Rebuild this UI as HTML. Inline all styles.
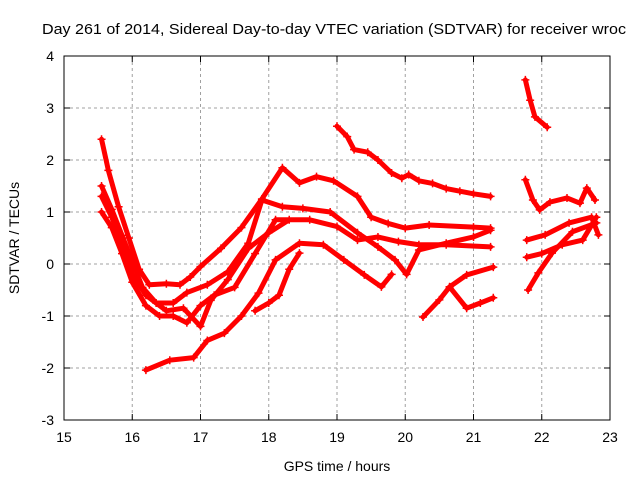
<!DOCTYPE html>
<html><head><meta charset="utf-8"><style>
body{margin:0;background:#fff}
svg{display:block;font-family:"Liberation Sans",sans-serif}
</style></head><body>
<svg id="c" width="640" height="480" viewBox="0 0 640 480">
<rect width="640" height="480" fill="#fff"/>
<text x="42" y="34" font-size="15" textLength="584" lengthAdjust="spacingAndGlyphs" fill="#000">Day 261 of 2014, Sidereal Day-to-day VTEC variation (SDTVAR) for receiver wroc</text>
<g id="grid"></g>
<g id="axes"></g>
<g id="series"></g>
<text x="337" y="471" font-size="14" text-anchor="middle">GPS time / hours</text>
<text transform="translate(19,238) rotate(-90)" font-size="14" text-anchor="middle">SDTVAR / TECUs</text>
</svg>
<script>
const xTicks=[15,16,17,18,19,20,21,22,23];
const yTicks=[-3,-2,-1,0,1,2,3,4];
const s1=[[15.55,2.4],[15.65,1.8],[15.8,1.1],[15.95,0.5],[16.1,-0.1],[16.25,-0.4],[16.5,-0.38],[16.7,-0.4],[16.85,-0.25],[17.0,-0.05],[17.3,0.3],[17.6,0.7],[17.9,1.25],[18.2,1.85],[18.45,1.56],[18.7,1.68],[18.95,1.6],[19.3,1.3],[19.5,0.9],[19.75,0.78],[20.0,0.69],[20.35,0.75],[21.0,0.71],[21.25,0.69]];
const s2=[[15.55,1.5],[15.7,1.05],[15.85,0.55],[16.0,0.05],[16.15,-0.45],[16.35,-0.75],[16.6,-0.75],[16.8,-0.55],[17.1,-0.4],[17.4,-0.15],[17.7,0.4],[17.9,1.23],[18.2,1.1],[18.5,1.07],[18.9,1.0],[19.3,0.6],[19.6,0.33],[19.85,0.08],[20.02,-0.2],[20.2,0.27],[20.6,0.4],[21.0,0.52],[21.25,0.65]];
const s3=[[15.55,1.0],[15.7,0.7],[15.85,0.2],[16.0,-0.35],[16.2,-0.8],[16.4,-1.0],[16.6,-1.0],[16.8,-1.13],[17.0,-0.8],[17.2,-0.6],[17.5,-0.45],[17.8,0.2],[18.1,0.85],[18.6,0.85],[19.0,0.72],[19.3,0.46],[19.6,0.52],[19.9,0.43],[20.2,0.37],[20.6,0.37],[21.25,0.33]];
const s4=[[15.55,1.3],[15.7,0.9],[15.85,0.4],[16.0,-0.2],[16.2,-0.6],[16.5,-0.9],[16.75,-0.85],[17.0,-1.2],[17.15,-0.7],[17.4,-0.3],[17.7,0.3],[18.0,0.6],[18.3,0.85]];
const s5=[[16.2,-2.04],[16.55,-1.85],[16.9,-1.8],[17.1,-1.47],[17.35,-1.33],[17.6,-1.0],[17.85,-0.56],[18.1,0.08],[18.45,0.4],[18.8,0.37],[19.1,0.08],[19.4,-0.21],[19.65,-0.44],[19.8,-0.2]];
const s6=[[17.8,-0.9],[18.0,-0.75],[18.15,-0.6],[18.3,-0.1],[18.45,0.21]];
const s7=[[19.0,2.65],[19.15,2.45],[19.25,2.2],[19.45,2.15],[19.6,2.0],[19.8,1.75],[19.95,1.65],[20.05,1.72],[20.2,1.6],[20.4,1.55],[20.6,1.45],[20.8,1.4],[21.0,1.35],[21.25,1.3]];
const s8=[[20.26,-1.02],[20.5,-0.69],[20.65,-0.44],[20.9,-0.21],[21.29,-0.06]];
const s9=[[20.65,-0.44],[20.9,-0.85],[21.1,-0.75],[21.29,-0.65]];
const s10=[[21.76,3.54],[21.83,3.15],[21.9,2.83],[22.08,2.63]];
const s11=[[21.76,1.62],[21.87,1.23],[21.97,1.04],[22.12,1.19],[22.37,1.27],[22.56,1.17],[22.66,1.46],[22.78,1.23]];
const s12=[[21.78,0.46],[22.05,0.56],[22.4,0.79],[22.73,0.9],[22.83,0.56]];
const s13=[[21.78,0.13],[22.0,0.2],[22.3,0.37],[22.6,0.46],[22.8,0.9]];
const s14=[[21.8,-0.5],[21.95,-0.17],[22.15,0.21],[22.45,0.62],[22.8,0.79]];
const allSeries=[s1,s2,s3,s4,s5,s6,s7,s8,s9,s10,s11,s12,s13,s14];
const X0=64,X1=610,Y0=420,Y1=56;
const xs=h=>X0+(h-15)/8*(X1-X0);
const ys=v=>Y0-(v+3)/7*(Y0-Y1);
const NS="http://www.w3.org/2000/svg";
function mk(t,a,p){const e=document.createElementNS(NS,t);for(const k in a)e.setAttribute(k,a[k]);p.appendChild(e);return e;}
const grid=document.getElementById('grid'),axes=document.getElementById('axes'),ser=document.getElementById('series');
xTicks.forEach(t=>{const x=xs(t);
 if(t>15&&t<23){const g=mk('line',{x1:x,x2:x,y1:Y1,y2:Y0,stroke:'#a0a0a0','stroke-dasharray':'3,3'},grid);
 
 }
 mk('line',{x1:x,x2:x,y1:Y0,y2:Y0-6,stroke:'#000'},axes);mk('line',{x1:x,x2:x,y1:Y1,y2:Y1+6,stroke:'#000'},axes);
 const l=mk('text',{x:x,y:Y0+22,'font-size':14,'text-anchor':'middle'},axes);l.textContent=t;
 
 });
yTicks.forEach(t=>{const y=ys(t);
 if(t>-3&&t<4){const g=mk('line',{x1:X0,x2:X1,y1:y,y2:y,stroke:'#a0a0a0','stroke-dasharray':'3,3'},grid);
 
 }
 mk('line',{x1:X0,x2:X0+6,y1:y,y2:y,stroke:'#000'},axes);mk('line',{x1:X1,x2:X1-6,y1:y,y2:y,stroke:'#000'},axes);
 const l=mk('text',{x:X0-10,y:y+5,'font-size':14,'text-anchor':'end'},axes);l.textContent=t;
 
 });
const fr=mk('rect',{x:X0,y:Y1,width:X1-X0,height:Y0-Y1,fill:'none',stroke:'#000'},axes);


allSeries.forEach((s,i)=>{
 const g=mk('g',{},ser);
 
 
 mk('polyline',{points:s.map(p=>xs(p[0])+','+ys(p[1])).join(' '),fill:'none',stroke:'#f00','stroke-width':5,'stroke-linejoin':'round','stroke-linecap':'round'},g);
 s.forEach(p=>{const x=xs(p[0]),y=ys(p[1]);
  mk('path',{d:`M${x-4},${y}H${x+4}M${x},${y-4}V${y+4}`,stroke:'#f00','stroke-width':1.5},g);});
});
</script>
</body></html>
